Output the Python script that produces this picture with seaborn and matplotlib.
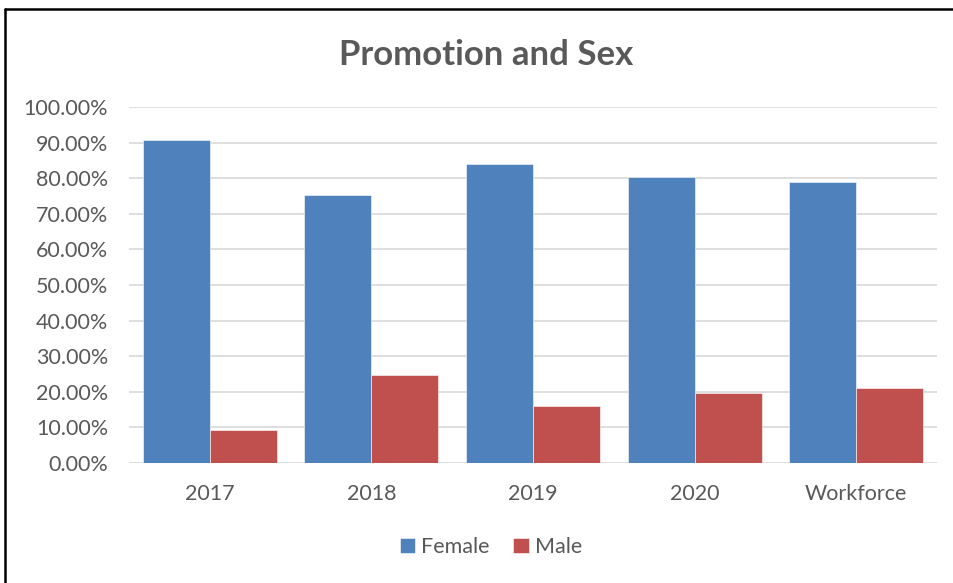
import matplotlib
matplotlib.use("Agg")
import matplotlib.pyplot as plt
import seaborn as sns
import pandas as pd
from matplotlib.lines import Line2D
from matplotlib.ticker import PercentFormatter

categories = ["2017", "2018", "2019", "2020", "Workforce"]
female = [0.906, 0.752, 0.841, 0.803, 0.788]
male = [0.094, 0.247, 0.159, 0.196, 0.212]
series = ["Female", "Male"]
colors = ["#4F81BD", "#C0504D"]

df = pd.DataFrame({
    "Category": categories * 2,
    "Value": female + male,
    "Sex": [series[0]] * len(categories) + [series[1]] * len(categories),
})

sns.set_theme(style="white")
plt.rcParams["font.family"] = ["Lato", "DejaVu Sans"]
txt = "#595959"

fig = plt.figure(figsize=(9.54, 5.83), dpi=100)
ax = fig.add_axes([129 / 954, 1 - 463 / 583, (937 - 129) / 954, (463 - 107) / 583])

sns.barplot(data=df, x="Category", y="Value", hue="Sex", order=categories,
            hue_order=series, palette=colors, width=0.83, gap=0,
            saturation=1, edgecolor="white", linewidth=0.4, ax=ax, legend=True)

ax.set_ylim(0, 1.0)
ax.set_yticks([i / 10 for i in range(11)])
ax.yaxis.set_major_formatter(PercentFormatter(1.0, decimals=2))
ax.grid(axis="y", color="#D9D9D9", linewidth=1.2)
ax.set_axisbelow(True)
for s in ax.spines.values():
    s.set_visible(False)
ax.set_xlabel("")
ax.set_ylabel("")
ax.tick_params(axis="y", length=0, pad=15, labelsize=15.5, labelcolor=txt)
ax.tick_params(axis="x", length=0, pad=15, labelsize=15.5, labelcolor=txt)

leg = ax.legend(loc="center", bbox_to_anchor=(491 / 954, 1 - 547 / 583),
                bbox_transform=fig.transFigure, ncol=2, frameon=False,
                fontsize=15.5, handlelength=0.7, handleheight=0.7,
                handletextpad=0.3, columnspacing=1.1, labelcolor=txt)

fig.text(486 / 954, 1 - 55 / 583, "Promotion and Sex", ha="center", va="center",
         fontsize=25, fontweight="bold", color=txt)

fig.add_artist(Line2D([5.5 / 954, 1.0], [1 - 8.5 / 583, 1 - 8.5 / 583],
                      transform=fig.transFigure, color="black", linewidth=1.8))
fig.add_artist(Line2D([5.5 / 954, 5.5 / 954], [0, 1 - 8.5 / 583],
                      transform=fig.transFigure, color="black", linewidth=1.8))

fig.savefig("out.png", dpi=100, facecolor="white")
